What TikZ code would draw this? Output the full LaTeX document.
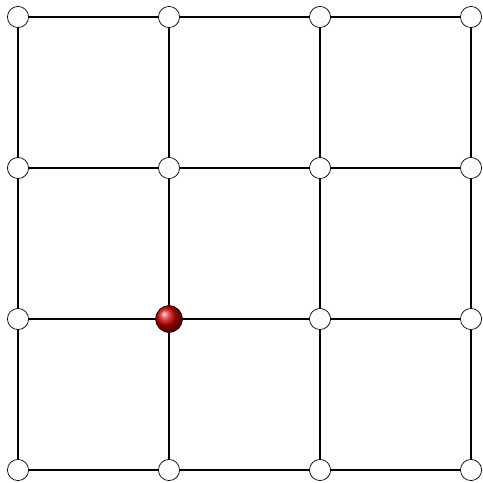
\documentclass[tikz,border=0pt]{standalone}
\usepackage{tikz}
\usetikzlibrary{positioning}

\begin{document}
\begin{tikzpicture}[
  x=3cm,y=3cm,
  site/.style={circle,draw=black,fill=white,thin,inner sep=0pt,minimum size=0.42cm},
  walker/.style={circle,draw=black,thin,inner sep=0pt,minimum size=0.53cm,ball color=red!80!black},
  bond/.style={line width=1pt,black}
]
  \useasboundingbox (-0.358cm,-0.258cm) rectangle (9.238cm,9.338cm);
  % lattice sites
  \foreach \i in {0,...,3}
    \foreach \j in {0,...,3}
      \coordinate (p\i\j) at (\i,\j);
  % bonds
  \foreach \i in {0,...,3} {
    \draw[bond] (p\i0) -- (p\i3);
    \draw[bond] (p0\i) -- (p3\i);
  }
  \foreach \i in {0,...,3}
    \foreach \j in {0,...,3}
      \node[site] (s\i\j) at (p\i\j) {};
  \node[walker] (ball) at (p11) {};
\end{tikzpicture}
\end{document}
